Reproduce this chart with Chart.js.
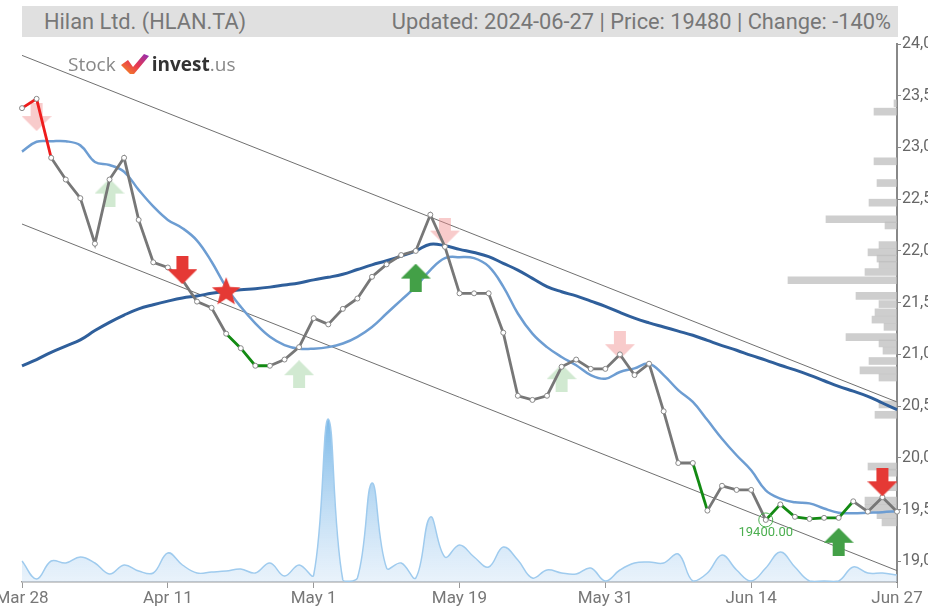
<!DOCTYPE html>
<html>
<head>
<meta charset="utf-8">
<script src="https://cdn.jsdelivr.net/npm/chart.js@4/dist/chart.umd.min.js"></script>
<style>
    body { margin: 0; background: #fff; }
    #wrap { position: relative; width: 928px; height: 608px; overflow: hidden; }
    #titlebar {
        position: absolute; left: 22px; top: 6px; width: 876px; height: 31px;
        background: #e0e0e0; color: #777;
        font: 21.8px Roboto, sans-serif;
    }
    #titlebar span { position: absolute; top: 3px; white-space: nowrap; }
    #logo {
        position: absolute; left: 68px; top: 51px; white-space: nowrap;
        font: 19px "Open Sans", sans-serif; color: #888; display: flex; align-items: center;
    }
    #logo b { color: #333; font-family: "Open Sans", sans-serif; font-size: 19px; }
</style>
</head>
<body>
<div id="wrap">
    <canvas id="priceChart" width="928" height="608"></canvas>
    <div id="titlebar">
        <span id="title-left" style="left:22px">Hilan Ltd. (HLAN.TA)</span>
        <span id="title-right" style="right:7px"></span>
    </div>
    <div id="logo">
        <span>Stock</span>
        <svg width="30" height="22" viewBox="0 0 30 22" style="margin:0 2px 0 4px">
            <defs>
                <linearGradient id="lg" x1="0" y1="1" x2="1" y2="0">
                    <stop offset="0" stop-color="#f7931e"/>
                    <stop offset="0.5" stop-color="#e8384f"/>
                    <stop offset="1" stop-color="#8e2db8"/>
                </linearGradient>
            </defs>
            <path d="M1 12 L8 7 L13 14 L24 1 L29 3 L14 21 L10 21 Z" fill="url(#lg)"/>
        </svg>
        <b>invest</b><span>.us</span>
    </div>
</div>
<script>
// dates (trading days) - only every 10th is shown on the axis
const dates = [
    'Mar 28', 'Mar 31', 'Apr 1', 'Apr 2', 'Apr 3', 'Apr 4', 'Apr 7', 'Apr 8', 'Apr 9', 'Apr 10',
    'Apr 11', 'Apr 14', 'Apr 15', 'Apr 16', 'Apr 17', 'Apr 18', 'Apr 21', 'Apr 24', 'Apr 25', 'Apr 30',
    'May 1', 'May 2', 'May 5', 'May 6', 'May 7', 'May 8', 'May 9', 'May 12', 'May 15', 'May 16',
    'May 19', 'May 20', 'May 21', 'May 22', 'May 23', 'May 26', 'May 27', 'May 28', 'May 29', 'May 30',
    'May 31', 'Jun 3', 'Jun 4', 'Jun 5', 'Jun 6', 'Jun 7', 'Jun 10', 'Jun 11', 'Jun 12', 'Jun 13',
    'Jun 14', 'Jun 17', 'Jun 18', 'Jun 19', 'Jun 20', 'Jun 21', 'Jun 23', 'Jun 24', 'Jun 25', 'Jun 26',
    'Jun 27'
];

const prices = [
    23380, 23470, 22900, 22690, 22510, 22070, 22690, 22900, 22300, 21890,
    21840, 21720, 21510, 21450, 21200, 21060, 20890, 20890, 20950, 21070,
    21350, 21290, 21440, 21540, 21750, 21870, 21960, 22000, 22350, 22040,
    21590, 21590, 21590, 21210, 20600, 20560, 20600, 20880, 20950, 20860,
    20860, 21000, 20800, 20910, 20450, 19950, 19950, 19490, 19730, 19690,
    19690, 19400, 19550, 19430, 19410, 19420, 19420, 19580, 19480, 19620,
    19480
];

const maShort = [
    22960, 23055, 23060, 23060, 23020, 22860, 22830, 22765, 22590, 22430,
    22300, 22220, 22100, 21895, 21650, 21460, 21300, 21170, 21090, 21055,
    21055, 21070, 21105, 21170, 21265, 21395, 21525, 21655, 21815, 21930,
    21940, 21930, 21850, 21655, 21395, 21200, 21070, 20975, 20895, 20800,
    20765, 20830, 20865, 20910, 20800, 20655, 20540, 20365, 20185, 20025,
    19880, 19685, 19605, 19570, 19560, 19510, 19470, 19465, 19470, 19475,
    19485
];

const maLong = [
    20890, 20950, 21020, 21080, 21140, 21230, 21310, 21380, 21440, 21480,
    21515, 21545, 21565, 21590, 21610, 21625, 21635, 21650, 21670, 21690,
    21720, 21745, 21775, 21820, 21865, 21905, 21950, 22000, 22065, 22050,
    22015, 21985, 21945, 21880, 21815, 21735, 21655, 21605, 21565, 21515,
    21465, 21405, 21350, 21305, 21265, 21225, 21185, 21135, 21085, 21040,
    20990, 20945, 20895, 20850, 20800, 20745, 20690, 20645, 20595, 20530,
    20465
];

const volumes = [
    21000, 3000, 21000, 19000, 25000, 19000, 8000, 17000, 11000, 9000,
    29000, 17000, 9000, 10000, 11000, 13000, 9000, 19000, 6000, 17000,
    7000, 163000, 2000, 4000, 99000, 14000, 19000, 4000, 65000, 25000,
    37000, 25000, 15000, 35000, 22000, 4000, 12000, 9000, 8000, 14000,
    1000, 12000, 19000, 20000, 19000, 28000, 1000, 9000, 27000, 12000,
    1000, 14000, 30000, 15000, 1000, 1000, 1000, 15000, 9000, 9000,
    7000
];

// trend channel: start / end values
const channelIdx = [0, 60];
const channelUpper = [23890, 20540];
const channelLower = [22260, 18910];

// volume profile (price level -> volume)
const profilePrices = [
    23460, 23380, 22900, 22690, 22500, 22340, 22280, 22090, 22020, 21960,
    21900, 21830, 21750, 21600, 21520, 21440, 21370, 21300, 21200, 21140,
    21070, 20970, 20880, 20810, 20550, 20450, 19950, 19890, 19750, 19620,
    19550, 19480, 19410
];
const profileVolumes = [
    300, 2300, 2300, 2000, 2800, 7100, 1200, 1800, 2900, 2000,
    1800, 3200, 10900, 4100, 1800, 2200, 2500, 1300, 5100, 1800,
    1400, 2800, 3700, 1800, 1800, 2200, 2900, 1800, 1800, 3200,
    3200, 2000, 1500
];

// signals (index into dates, price level)
const sellIdx = [11, 59];
const sellPrice = [21814, 19764];
const buyIdx = [27, 56];
const buyPrice = [21742, 19189];
const starIdx = [14];
const starPrice = [21611];
const weakSellIdx = [1, 29, 41];
const weakSellPrice = [23294, 22187, 21089];
const weakBuyIdx = [6, 19, 37];
const weakBuyPrice = [22564, 20808, 20770];

// coloured stretches of the price line [from, to]
const redSpans = [[0, 2]];
const greenSpans = [[14, 17], [46, 47], [51, 57]];

const yTicks = [19000, 19500, 20000, 20500, 21000, 21500, 22000, 22500, 23000, 23500, 24000];

const FONT = 'Roboto, sans-serif';

function makeArrow(color, up) {
    const c = document.createElement('canvas');
    c.width = 30;
    c.height = 28;
    const g = c.getContext('2d');
    g.fillStyle = color;
    g.beginPath();
    if (up) {
        g.moveTo(15, 0); g.lineTo(30, 15); g.lineTo(21, 15); g.lineTo(21, 28);
        g.lineTo(9, 28); g.lineTo(9, 15); g.lineTo(0, 15);
    } else {
        g.moveTo(15, 28); g.lineTo(30, 13); g.lineTo(21, 13); g.lineTo(21, 0);
        g.lineTo(9, 0); g.lineTo(9, 13); g.lineTo(0, 13);
    }
    g.closePath();
    g.fill();
    return c;
}

function makeStar(color) {
    const c = document.createElement('canvas');
    c.width = 30;
    c.height = 30;
    const g = c.getContext('2d');
    g.fillStyle = color;
    g.beginPath();
    for (let i = 0; i < 10; i++) {
        const r = i % 2 === 0 ? 15 : 6.5;
        const a = -Math.PI / 2 + i * Math.PI / 5;
        const px = 15 + r * Math.cos(a);
        const py = 16 + r * Math.sin(a);
        if (i === 0) g.moveTo(px, py); else g.lineTo(px, py);
    }
    g.closePath();
    g.fill();
    return c;
}

// category scale wants the label, not the index
function toPoints(idx, vals) {
    return idx.map((x, i) => ({ x: dates[x], y: vals[i] }));
}

function segColor(i) {
    if (redSpans.some(([a, b]) => i >= a && i < b)) return '#ee1c1c';
    if (greenSpans.some(([a, b]) => i >= a && i < b)) return '#138a13';
    return '#777';
}

const minVal = Math.min(...prices);
const minIdx = prices.indexOf(minVal);
const lastPrice = prices[prices.length - 1];
const change = lastPrice - prices[prices.length - 2];
document.getElementById('title-right').textContent =
    `Updated: 2024-06-27 | Price: ${lastPrice} | Change: ${change}%`;

const minLabelPlugin = {
    id: 'minLabel',
    afterDatasetsDraw(chart) {
        const ctx = chart.ctx;
        const x = chart.scales.x.getPixelForValue(minIdx);
        const y = chart.scales.y.getPixelForValue(minVal);
        ctx.save();
        ctx.fillStyle = '#4caf50';
        ctx.font = '13px ' + FONT;
        ctx.textAlign = 'center';
        ctx.textBaseline = 'top';
        ctx.fillText(minVal.toFixed(2), x, y + 6);
        ctx.restore();
    }
};

function volumeFill(context) {
    const chart = context.chart;
    const area = chart.chartArea;
    if (!area) return 'rgba(160,200,235,0.4)';
    const top = chart.scales.yVol.getPixelForValue(Math.max(...volumes));
    const grad = chart.ctx.createLinearGradient(0, top, 0, area.bottom);
    grad.addColorStop(0, 'rgba(110,178,230,0.9)');
    grad.addColorStop(1, 'rgba(215,232,248,0.55)');
    return grad;
}

const ctx = document.getElementById('priceChart').getContext('2d');
const priceChart = new Chart(ctx, {
    type: 'line',
    data: {
        labels: dates,
        datasets: [
            {
                label: 'Sell',
                data: toPoints(sellIdx, sellPrice),
                showLine: false,
                pointStyle: makeArrow('#e53935', false),
                order: 0
            },
            {
                label: 'Buy',
                data: toPoints(buyIdx, buyPrice),
                showLine: false,
                pointStyle: makeArrow('#43a047', true),
                order: 0
            },
            {
                label: 'Star',
                data: toPoints(starIdx, starPrice),
                showLine: false,
                pointStyle: makeStar('#e53935'),
                order: 0
            },
            {
                label: 'Min',
                data: [{ x: dates[minIdx], y: minVal }],
                showLine: false,
                pointStyle: 'circle',
                pointRadius: 7,
                pointBorderWidth: 1,
                pointBorderColor: '#4caf50',
                pointBackgroundColor: 'rgba(0,0,0,0)',
                order: 0
            },
            {
                label: 'Price',
                data: prices,
                borderColor: '#777',
                borderWidth: 2.8,
                tension: 0,
                pointRadius: 2.5,
                pointBorderWidth: 1,
                pointBorderColor: '#888',
                pointBackgroundColor: '#fff',
                segment: { borderColor: c => segColor(c.p0DataIndex) },
                order: 1
            },
            {
                label: 'Weak sell',
                data: toPoints(weakSellIdx, weakSellPrice),
                showLine: false,
                pointStyle: makeArrow('rgba(240,140,140,0.45)', false),
                order: 2
            },
            {
                label: 'Weak buy',
                data: toPoints(weakBuyIdx, weakBuyPrice),
                showLine: false,
                pointStyle: makeArrow('rgba(140,200,140,0.4)', true),
                order: 2
            },
            {
                label: 'MA short',
                data: maShort,
                borderColor: '#6d9dd2',
                borderWidth: 2.5,
                tension: 0.4,
                pointRadius: 0,
                order: 3
            },
            {
                label: 'MA long',
                data: maLong,
                borderColor: '#2f5f9b',
                borderWidth: 3,
                tension: 0.4,
                pointRadius: 0,
                order: 3
            },
            {
                label: 'Channel upper',
                data: toPoints(channelIdx, channelUpper),
                borderColor: '#707070',
                borderWidth: 1,
                pointRadius: 0,
                order: 4
            },
            {
                label: 'Channel lower',
                data: toPoints(channelIdx, channelLower),
                borderColor: '#707070',
                borderWidth: 1,
                pointRadius: 0,
                order: 4
            },
            {
                label: 'Volume',
                data: volumes,
                yAxisID: 'yVol',
                borderColor: '#9fcbee',
                borderWidth: 1.5,
                backgroundColor: volumeFill,
                fill: 'origin',
                tension: 0.4,
                pointRadius: 0,
                order: 5
            },
            {
                type: 'bar',
                label: 'Volume profile',
                indexAxis: 'y',
                data: profilePrices.map((p, i) => ({ x: profileVolumes[i], y: p })),
                xAxisID: 'xProf',
                yAxisID: 'y',
                backgroundColor: 'rgba(190,190,190,0.75)',
                barThickness: 7,
                order: 6
            }
        ]
    },
    options: {
        responsive: false,
        animation: false,
        devicePixelRatio: 1,
        layout: { padding: { top: 44, left: 22, right: 0, bottom: 0 } },
        plugins: {
            legend: { display: false },
            tooltip: { enabled: false }
        },
        scales: {
            x: {
                type: 'category',
                offset: false,
                grid: { drawOnChartArea: false, tickLength: 6, color: '#999', offset: false },
                border: { color: '#999', width: 1.5 },
                ticks: {
                    autoSkip: false,
                    maxRotation: 0,
                    padding: 1,
                    color: '#777',
                    font: { size: 17, family: FONT },
                    callback: (val, i) => (i % 10 === 0 ? dates[i] : null)
                },
                afterFit: (scale) => {
                    scale.height = 26;
                    scale.paddingLeft = 0;
                    scale.paddingRight = 0;
                }
            },
            y: {
                type: 'linear',
                position: 'right',
                min: 18800,
                max: 24000,
                offset: false,
                grid: { drawOnChartArea: false, tickLength: 4, color: '#888', offset: false },
                border: { color: '#888', width: 2 },
                afterBuildTicks: (scale) => {
                    scale.ticks = yTicks.map(v => ({ value: v }));
                },
                ticks: {
                    padding: 1,
                    color: '#666',
                    font: { size: 16, family: FONT },
                    callback: (v) => v.toLocaleString('en-US')
                },
                afterFit: (scale) => {
                    scale.width = 31;
                }
            },
            yVol: {
                type: 'linear',
                display: false,
                min: 0,
                max: 538000
            },
            xProf: {
                type: 'linear',
                axis: 'x',
                display: false,
                reverse: true,
                min: 0,
                max: 87500
            }
        }
    },
    plugins: [minLabelPlugin]
});
</script>
</body>
</html>
